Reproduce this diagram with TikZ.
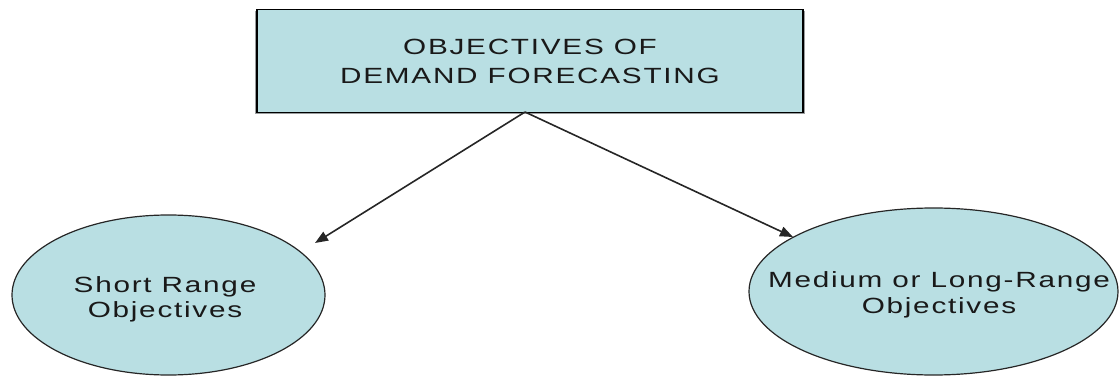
\documentclass[tikz,border=0pt]{standalone}
\usepackage{fontspec}
\usetikzlibrary{shapes.geometric,arrows.meta}
\newfontfamily\labfont[FakeStretch=1.35,LetterSpace=8]{Liberation Sans}
\definecolor{fillblue}{HTML}{B9DFE3}
\definecolor{shadowgray}{HTML}{6E7375}
\tikzset{
  labtext/.style={font=\labfont\fontsize{22}{29}\selectfont, text=black!90, align=center},
  topbox/.style={rectangle, fill=fillblue, draw=black, line width=1.2pt, inner sep=0pt,
    minimum width=546pt, minimum height=103pt, labtext},
  oval/.style={ellipse, fill=fillblue, draw=black!85, line width=1.2pt, inner sep=0pt},
  link/.style={draw=black!85, line width=1.6pt, -{Triangle[length=13pt,width=10pt]}}
}
\begin{document}
\begin{tikzpicture}[x=1pt,y=-1pt]
\useasboundingbox (0,0) rectangle (1120,377);
% shadow of the box
\fill[shadowgray!70] (255,11) rectangle (805,114);
\node[topbox] (top) at (530,61) {OBJECTIVES OF\\DEMAND FORECASTING};
\node[oval, minimum width=313pt, minimum height=160pt] (short) at (168.5,295) {};
\node[labtext, anchor=base] (shorttxt) at (165,317) {Short Range\\[-4pt]Objectives};
\node[oval, minimum width=369pt, minimum height=167pt] (medium) at (933.5,291.5) {};
\node[labtext, anchor=base] (mediumtxt) at (939,313) {Medium or Long-Range\\[-3pt]Objectives};
\coordinate (apex) at (525,112);
\coordinate (lefttip) at (315,243);
\coordinate (righttip) at (793,237);
\draw[link] (apex) -- (lefttip);
\draw[link] (apex) -- (righttip);
\end{tikzpicture}
\end{document}
